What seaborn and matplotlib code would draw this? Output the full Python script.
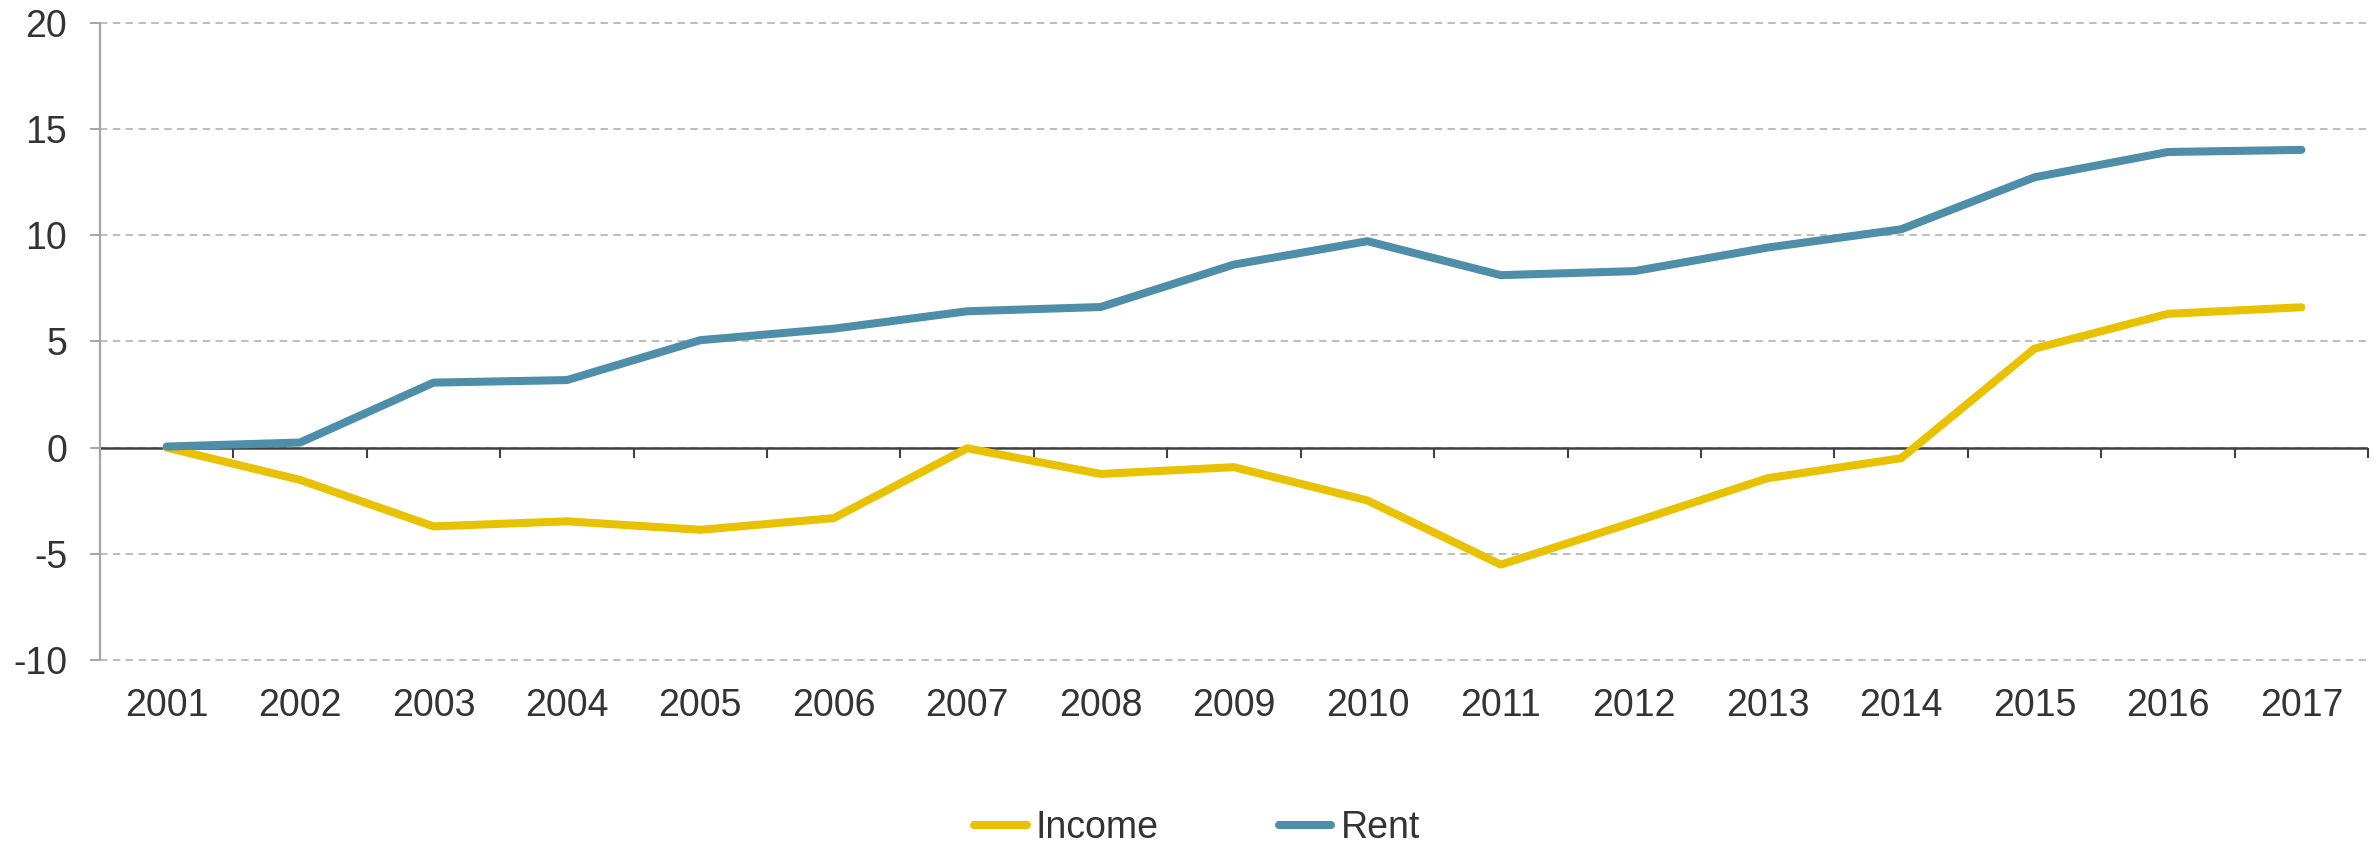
import matplotlib
matplotlib.use("Agg")
import matplotlib.pyplot as plt
import seaborn as sns
import pandas as pd
from matplotlib.lines import Line2D

years = list(range(2001, 2018))
income = [0.0, -1.52, -3.71, -3.47, -3.87, -3.32, -0.03, -1.24, -0.92, -2.49, -5.51, -3.5, -1.44, -0.5, 4.66, 6.3, 6.61]
rent = [0.05, 0.24, 3.06, 3.18, 5.06, 5.6, 6.42, 6.62, 8.62, 9.72, 8.12, 8.31, 9.42, 10.28, 12.73, 13.92, 14.02]
series_names = ["Income", "Rent"]
colors = {"Income": "#E8C200", "Rent": "#4F8EA8"}
y_ticks = [-10, -5, 0, 5, 10, 15, 20]

df = pd.DataFrame({
    "Year": years * 2,
    "Value": income + rent,
    "Series": ["Income"] * len(years) + ["Rent"] * len(years),
})

sns.set_style("white")
plt.rcParams["font.family"] = ["Liberation Sans", "DejaVu Sans"]
text_color = "#333333"

fig = plt.figure(figsize=(23.8, 8.47), dpi=100)
ax = fig.add_axes([0.042, 0.2208, 0.953, 0.7522])

sns.lineplot(data=df, x="Year", y="Value", hue="Series", palette=colors,
             linewidth=5.8, ax=ax, legend=False, solid_capstyle="round",
             zorder=3)

ax.set_xlim(years[0] - 0.5, years[-1] + 0.5)
ax.set_ylim(-10, 20)
ax.set_yticks(y_ticks)
ax.set_yticklabels([str(v) for v in y_ticks])
ax.set_xticks(years)
ax.set_xticklabels([str(y) for y in years])
ax.set_xlabel("")
ax.set_ylabel("")

# gridlines
ax.yaxis.grid(True, linestyle=(0, (3.8, 2.8)), color="#BDBDBD", linewidth=1.4)
ax.xaxis.grid(False)
ax.set_axisbelow(True)
for gl in ax.get_ygridlines():
    gl.set_clip_on(False)

for s in ["top", "right", "bottom"]:
    ax.spines[s].set_visible(False)
ax.spines["left"].set_color("#A6A6A6")
ax.spines["left"].set_linewidth(1.6)
ax.spines["left"].set_zorder(2.6)

ax.tick_params(axis="y", which="major", length=7.5, width=1.4, color="#A6A6A6",
               pad=16, labelsize=27, labelcolor=text_color, left=True)
ax.tick_params(axis="x", which="major", length=0, pad=20, labelsize=27,
               labelcolor=text_color, bottom=True)

# horizontal axis line at zero with boundary ticks
ax.axhline(0, color="#404040", linewidth=1.8, zorder=2.5)
sec = ax.secondary_xaxis(location=1 / 3)
sec.set_xticks([y - 0.5 for y in years] + [years[-1] + 0.5])
sec.set_xticklabels([])
sec.spines["bottom"].set_visible(False)
sec.tick_params(axis="x", length=7, width=1.5, color="#404040", direction="out")

handles = [Line2D([0], [0], color=colors[n], linewidth=5.8, solid_capstyle="round") for n in series_names]
leg = fig.legend(handles, series_names, loc="center", bbox_to_anchor=(0.503, 0.022),
                 ncol=2, frameon=False, handlelength=1.4,
                 handletextpad=0.25, columnspacing=3.2, borderpad=0,
                 prop={"size": 27})
for t in leg.get_texts():
    t.set_color(text_color)

fig.savefig("out.png", dpi=100)
